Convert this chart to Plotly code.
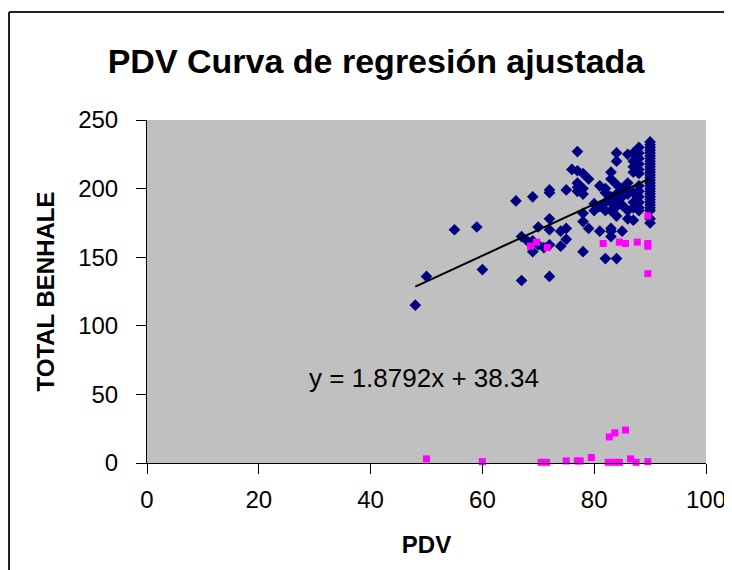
import plotly.graph_objects as go

# Blue points: PDV vs TOTAL BENHALE (main data)
pdv_blue = (
    [48, 50, 55, 59, 60, 66, 67, 67, 68, 69, 69, 69, 70, 70, 71]
    + [72] * 6 + [74, 74] + [75] * 3 + [76] + [77] * 5 + [78] * 6
    + [79, 79, 80, 80] + [81] * 3 + [82] * 5 + [83] * 8 + [84] * 8
    + [85] * 4 + [86] * 6 + [87] * 8 + [88] * 12 + [90] * 28
)
benhale_blue = (
    [115, 136, 170, 172, 141, 191, 133, 165, 162, 194, 162, 154, 172, 159, 157]
    + [199, 197, 170, 178, 159, 136] + [169, 158] + [199, 171, 163] + [214]
    + [227, 213, 201, 198, 204] + [211, 196, 182, 176, 154, 200]
    + [207, 171, 189, 184] + [202, 169, 187] + [200, 197, 184, 149, 190]
    + [212, 207, 171, 169, 165, 190, 184, 194]
    + [226, 220, 187, 180, 149, 196, 203, 192]
    + [169, 200, 188, 194] + [225, 184, 178, 204, 196, 200]
    + [226, 220, 216, 212, 177, 197, 190, 186]
    + [230, 226, 222, 218, 214, 211, 202, 198, 194, 190, 186, 184]
    + [175, 178, 184, 186, 188, 190, 192, 194, 196, 198, 200, 202, 204, 206,
       208, 210, 212, 214, 216, 218, 220, 222, 224, 226, 228, 230, 232, 234]
)

# Magenta points
pdv_pink = [50, 60, 70.5, 71.5, 75, 77, 77.5, 79.5, 82.5, 83.5, 84.5, 86.5, 87.5, 89.6,
            82.7, 83.7, 85.6,
            68.6, 69.7, 71.6, 81.6, 84.5, 85.6, 87.7, 89.6, 89.6, 89.6, 89.6]
benhale_pink = [3, 1, 0.5, 0.5, 1.5, 1.5, 1.5, 4, 0.5, 0.5, 0.5, 3, 0.5, 1,
                19, 22, 24,
                158, 161, 157, 160, 161, 160, 161, 160, 158, 180, 138]

SLOPE = 1.8792
INTERCEPT = 38.34

FONT = "Arial, Liberation Sans, sans-serif"

x_fit = [min(pdv_blue), max(pdv_blue)]
y_fit = [SLOPE * x + INTERCEPT for x in x_fit]

fig = go.Figure()
fig.add_trace(go.Scatter(
    x=pdv_blue, y=benhale_blue, mode="markers",
    marker=dict(symbol="diamond", size=9, color="#000080"),
    cliponaxis=False, showlegend=False,
))
fig.add_trace(go.Scatter(
    x=pdv_pink, y=benhale_pink, mode="markers",
    marker=dict(symbol="square", size=7, color="#FF00FF"),
    cliponaxis=False, showlegend=False,
))
fig.add_trace(go.Scatter(
    x=x_fit, y=y_fit, mode="lines",
    line=dict(color="black", width=2),
    showlegend=False,
))

fig.add_annotation(
    x=49.5, y=62, text=f"y = {SLOPE}x + {INTERCEPT}", showarrow=False,
    font=dict(family=FONT, size=26, color="black"),
)

# chart frame: only its left and top edges fall inside the picture
# (page body has an 8px margin, so the plot area starts at 139,112 in the figure)
frame_left = (1 - 139) / 559
frame_top = (455 - 4) / 343
frame = dict(color="#222222", width=2)
fig.add_shape(type="line", xref="paper", yref="paper", layer="below",
              x0=frame_left, x1=frame_left, y0=-0.5, y1=frame_top, line=frame)
fig.add_shape(type="line", xref="paper", yref="paper", layer="below",
              x0=frame_left, x1=1.3, y0=frame_top, y1=frame_top, line=frame)

fig.update_layout(
    width=732, height=570,
    margin=dict(l=139, r=34, t=112, b=115),
    paper_bgcolor="white",
    plot_bgcolor="#C0C0C0",
    font=dict(family=FONT, size=24, color="black"),
    title=dict(
        text="<b>PDV Curva de regresión ajustada</b>",
        x=368 / 732, xanchor="center", y=1 - 53 / 570, yanchor="middle",
        font=dict(family=FONT, size=34, color="black"),
    ),
    xaxis=dict(
        range=[0, 100], dtick=20, showgrid=False, zeroline=False,
        showline=True, linecolor="black", linewidth=1,
        ticks="outside", ticklen=10, tickcolor="black", ticklabelstandoff=5,
        title=dict(text="<b>PDV</b>", standoff=24, font=dict(size=24)),
    ),
    yaxis=dict(
        range=[0, 250], dtick=50, showgrid=False, zeroline=False,
        showline=True, linecolor="black", linewidth=1,
        ticks="outside", ticklen=10, tickcolor="black", ticklabelstandoff=13,
        title=dict(text="<b>TOTAL BENHALE</b>", standoff=16, font=dict(size=24)),
    ),
)

fig.write_html("out.html")
